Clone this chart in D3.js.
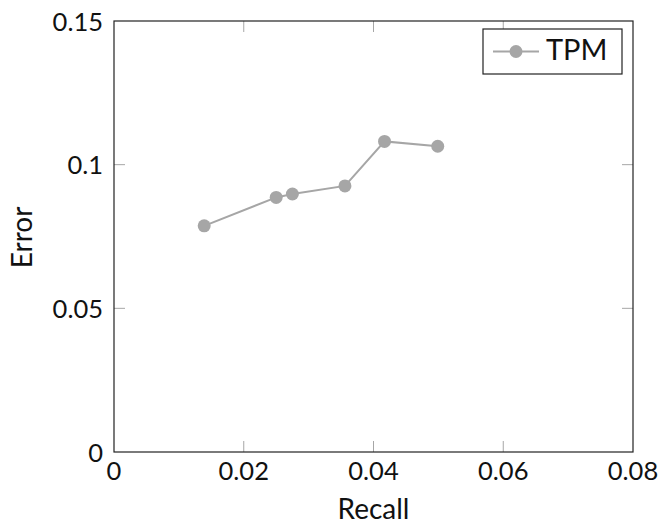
<!DOCTYPE html>
<html>
<head>
<meta charset="utf-8">
<script src="https://cdn.jsdelivr.net/npm/d3@7"></script>
<style>
  body { margin: 0; background: #fff; }
  text { font-family: Lato, "DejaVu Sans", sans-serif; fill: #111; }
</style>
</head>
<body>
<svg id="chart"></svg>
<script>
// data
const recall = [0.0139, 0.0250, 0.0275, 0.0356, 0.0417, 0.0499];
const error = [0.0787, 0.0886, 0.0898, 0.0926, 0.1081, 0.1064];
const xTicks = [0, 0.02, 0.04, 0.06, 0.08];
const yTicks = [0, 0.05, 0.1, 0.15];
const seriesName = "TPM";

const width = 661, height = 524;
const margin = {top: 21, right: 28, bottom: 72, left: 114};
const grey = "#a6a6a6";

const svg = d3.select("#chart").attr("width", width).attr("height", height);

const x = d3.scaleLinear().domain([0, 0.08]).range([margin.left, width - margin.right]);
const y = d3.scaleLinear().domain([0, 0.15]).range([height - margin.bottom, margin.top]);

const tickLen = 11;
const fmt = d => d === 0 ? "0" : String(d);

// ticks (inside, on all four sides)
const ticks = svg.append("g").attr("stroke", grey).attr("stroke-width", 1);
xTicks.slice(1, -1).forEach(t => {
    ticks.append("line").attr("x1", x(t)).attr("x2", x(t))
        .attr("y1", y(0)).attr("y2", y(0) - tickLen);
    ticks.append("line").attr("x1", x(t)).attr("x2", x(t))
        .attr("y1", y(0.15)).attr("y2", y(0.15) + tickLen);
});
yTicks.slice(1, -1).forEach(t => {
    ticks.append("line").attr("x1", x(0)).attr("x2", x(0) + tickLen)
        .attr("y1", y(t)).attr("y2", y(t));
    ticks.append("line").attr("x1", x(0.08)).attr("x2", x(0.08) - tickLen)
        .attr("y1", y(t)).attr("y2", y(t));
});

// frame
svg.append("rect")
    .attr("x", x(0)).attr("y", y(0.15))
    .attr("width", x(0.08) - x(0)).attr("height", y(0) - y(0.15))
    .attr("fill", "none").attr("stroke", "#222").attr("stroke-width", 1.2);

// tick labels
svg.append("g").selectAll("text").data(xTicks).join("text")
    .attr("x", d => x(d)).attr("y", y(0) + 28)
    .attr("text-anchor", "middle").attr("font-size", 25.5)
    .text(fmt);
svg.append("g").selectAll("text").data(yTicks).join("text")
    .attr("x", x(0) - 11).attr("y", d => y(d) + 9.5)
    .attr("text-anchor", "end").attr("font-size", 25.5)
    .text(fmt);

// axis titles
svg.append("text").attr("x", (x(0) + x(0.08)) / 2).attr("y", 519)
    .attr("text-anchor", "middle").attr("font-size", 28).text("Recall");
svg.append("text")
    .attr("transform", `translate(32, ${(y(0) + y(0.15)) / 2 + 1}) rotate(-90)`)
    .attr("text-anchor", "middle").attr("font-size", 28).text("Error");

// series
const pts = recall.map((r, i) => ({r: r, e: error[i]}));
svg.append("path").datum(pts)
    .attr("fill", "none").attr("stroke", grey).attr("stroke-width", 2)
    .attr("d", d3.line().x(d => x(d.r)).y(d => y(d.e)));
svg.append("g").selectAll("circle").data(pts).join("circle")
    .attr("cx", d => x(d.r)).attr("cy", d => y(d.e))
    .attr("r", 6.5).attr("fill", grey);

// legend
const lg = svg.append("g");
lg.append("rect").attr("x", 483).attr("y", 29).attr("width", 139).attr("height", 45)
    .attr("fill", "#fff").attr("stroke", "#222").attr("stroke-width", 1.2);
lg.append("line").attr("x1", 493).attr("x2", 539).attr("y1", 51.5).attr("y2", 51.5)
    .attr("stroke", grey).attr("stroke-width", 2);
lg.append("circle").attr("cx", 516).attr("cy", 51.5).attr("r", 6.5).attr("fill", grey);
lg.append("text").attr("x", 546).attr("y", 60).attr("font-size", 29).text(seriesName);
</script>
</body>
</html>
